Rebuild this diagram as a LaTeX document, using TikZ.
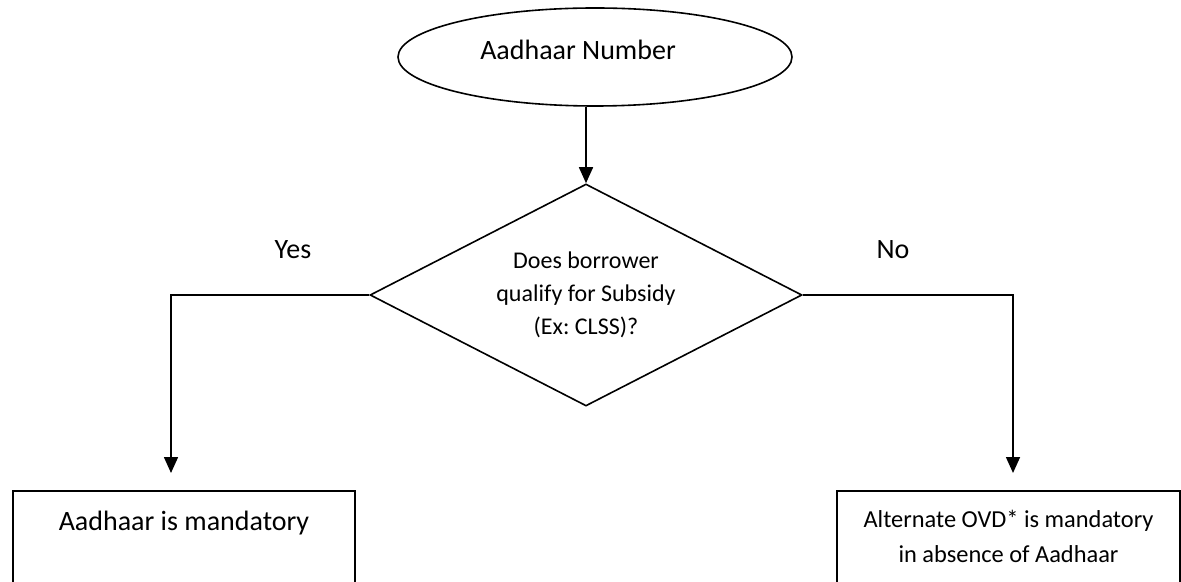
\documentclass[tikz,border=0pt]{standalone}
\usepackage{fontspec}
\setmainfont{Carlito}
\frenchspacing
\usetikzlibrary{shapes.geometric,arrows.meta,positioning}

\begin{document}
\begin{tikzpicture}[x=0.5pt,y=-0.5pt,line width=0.8pt,
  start/.style={draw,ellipse,minimum width=197pt,minimum height=49pt,inner sep=0pt,
    font=\fontsize{14}{16}\selectfont,text depth=7.5pt},
  decision/.style={draw,diamond,aspect=2,minimum width=216pt,minimum height=111pt,
    inner sep=0pt,align=center,font=\fontsize{12}{16.5}\selectfont},
  outbox/.style={draw,rectangle,minimum width=171pt,minimum height=70pt,inner sep=0pt},
  boxtext/.style={inner sep=0pt,align=center},
  answer/.style={font=\fontsize{14}{16}\selectfont},
  flow/.style={-{Triangle[width=7pt,length=8pt]}}]
  \clip (0,0) rectangle (1181,582);

  \node[start] (number) at (595,57) {Aadhaar Number\hspace*{17pt}};
  \node[decision] (decide) at (586,295) {Does borrower\\qualify for Subsidy\\(Ex: CLSS)?};
  \node[answer] (yes) at (293,250) {Yes};
  \node[answer] (no) at (893,250) {No};

  % result boxes, cut off at the bottom
  \node[outbox] (yesbox) at (184,561) {};
  \node[outbox,minimum width=171.5pt] (nobox) at (1008.5,561) {};
  \node[boxtext,font=\fontsize{14}{16}\selectfont,below=10pt of yesbox.north] (yestext) {Aadhaar is mandatory};
  \node[boxtext,font=\fontsize{12.2}{17.5}\selectfont,below=9.5pt of nobox.north] (notext)
    {Alternate OVD* is mandatory\\in absence of Aadhaar};

  \coordinate (yestip) at (171,473);
  \coordinate (notip) at (1013,473);

  \draw[flow] (decide.north |- number.south) -- (decide.north);
  \draw[flow] (decide.west) -| (yestip);
  \draw[flow] (decide.east) -| (notip);
\end{tikzpicture}
\end{document}
